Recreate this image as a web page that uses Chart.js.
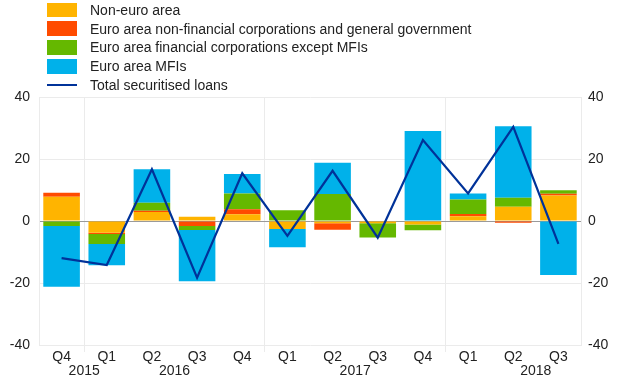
<!DOCTYPE html>
<html>
<head>
<meta charset="utf-8">
<script src="https://cdn.jsdelivr.net/npm/chart.js@4/dist/chart.umd.min.js"></script>
<style>
  html, body { margin: 0; padding: 0; background: #fff; }
  #wrap { position: relative; width: 620px; height: 387px; font-family: "Liberation Sans", Arial, sans-serif; }
  #legend { position: absolute; left: 47px; top: 0.5px; }
  .item { height: 18.8px; display: flex; align-items: center; font-size: 14px; color: #222; }
  .swatch { width: 30px; height: 14.6px; margin-right: 13px; }
  .line { width: 30px; height: 2px; margin-right: 13px; }
</style>
</head>
<body>
<div id="wrap">
  <canvas id="chart" width="620" height="387"></canvas>
  <div id="legend"></div>
</div>
<script>
// quarters and years
const quarters = ['Q4', 'Q1', 'Q2', 'Q3', 'Q4', 'Q1', 'Q2', 'Q3', 'Q4', 'Q1', 'Q2', 'Q3'];
const yearLabels = ['2015', '2016', '2017', '2018'];
const yearAt = [0.5, 2.5, 6.5, 10.5];   // category index the year label sits under
const yearBreaks = [1, 5, 9];           // grid lines before these categories

// series (percentage points)
const nonEuro = [7.8, -3.8, 2.9, 1.4, 2.2, -2.6, -0.75, -0.75, -1.1, 1.5, 4.6, 8.2];
const nfcGov  = [1.3, -0.4, 0.4, -1.6, 1.6, 0, -2.1, 0, 0, 0.75, -0.6, 0.6];
const finCorp = [-1.6, -3.2, 2.6, -1.3, 5.1, 3.5, 8.7, -4.6, -1.9, 4.7, 2.9, 1.1];
const mfis    = [-19.6, -6.9, 10.8, -16.5, 6.3, -5.9, 10.1, 0, 29.0, 1.9, 23.1, -17.4];
const total   = [-12.0, -14.2, 16.7, -18.3, 15.4, -4.8, 16.2, -5.4, 26.1, 8.9, 30.4, -7.4];

const yTicks = [40, 20, 0, -20, -40];

const colors = {
  nonEuro: '#FFB400',
  nfcGov: '#FF4B00',
  finCorp: '#65B800',
  mfis: '#00B1EA',
  total: '#003299'
};

function barSet(label, data, color) {
  return {
    type: 'bar', label: label, data: data,
    backgroundColor: color, borderWidth: 0,
    stack: 'bars', order: 1,
    barPercentage: 0.81, categoryPercentage: 1
  };
}

const datasets = [
  barSet('Non-euro area', nonEuro, colors.nonEuro),
  barSet('Euro area non-financial corporations and general government', nfcGov, colors.nfcGov),
  barSet('Euro area financial corporations except MFIs', finCorp, colors.finCorp),
  barSet('Euro area MFIs', mfis, colors.mfis),
  {
    type: 'line', label: 'Total securitised loans', data: total,
    borderColor: colors.total, borderWidth: 2.2, pointRadius: 0,
    tension: 0, stack: 'line', order: 0
  }
];

// html legend
const legendEl = document.getElementById('legend');
datasets.forEach(ds => {
  const row = document.createElement('div');
  row.className = 'item';
  const mark = document.createElement('div');
  if (ds.type === 'line') {
    mark.className = 'line';
    mark.style.background = ds.borderColor;
  } else {
    mark.className = 'swatch';
    mark.style.background = ds.backgroundColor;
  }
  row.appendChild(mark);
  row.appendChild(document.createTextNode(ds.label));
  legendEl.appendChild(row);
});

const tickFont = { family: '"Liberation Sans", Arial, sans-serif', size: 14 };

// year labels under the quarter labels
const yearPlugin = {
  id: 'years',
  afterDraw(chart) {
    const ctx = chart.ctx;
    const x = chart.scales.x;
    ctx.save();
    ctx.font = '14px "Liberation Sans", Arial, sans-serif';
    ctx.fillStyle = '#222';
    ctx.textAlign = 'center';
    ctx.textBaseline = 'middle';
    yearLabels.forEach((y, i) => {
      ctx.fillText(y, x.getPixelForValue(yearAt[i]), 371);
    });
    ctx.restore();
  }
};

const yScale = (pos) => ({
  type: 'linear', position: pos, min: -40, max: 40,
  afterFit(s) { s.width = 39; },
  afterBuildTicks(s) { s.ticks = yTicks.map(v => ({ value: v })); },
  border: { display: true, color: '#ebebeb' },
  grid: {
    display: pos === 'left',
    drawTicks: false,
    color: c => c.tick && c.tick.value === 0 ? '#9a9a9a' : '#ebebeb',
    lineWidth: 1
  },
  ticks: { color: '#222', font: tickFont, padding: pos === 'left' ? 9 : 7 }
});

new Chart(document.getElementById('chart'), {
  data: { labels: quarters, datasets: datasets },
  options: {
    responsive: false,
    animation: false,
    layout: { padding: { top: 97, left: 0, right: 0, bottom: 0 } },
    plugins: { legend: { display: false }, tooltip: { enabled: false } },
    scales: {
      x: {
        stacked: true,
        afterFit(s) { s.height = 42; },
        border: { display: false },
        grid: {
          offset: true,
          drawTicks: true,
          tickLength: 7,
          color: c => yearBreaks.includes(c.index) ? '#ebebeb' : 'rgba(0,0,0,0)',
          tickColor: c => yearBreaks.includes(c.index) ? '#ebebeb' : 'rgba(0,0,0,0)'
        },
        ticks: { color: '#222', font: tickFont, padding: -3, maxRotation: 0 }
      },
      y: Object.assign(yScale('left'), { stacked: true }),
      y2: yScale('right')
    }
  },
  plugins: [yearPlugin]
});
</script>
</body>
</html>
